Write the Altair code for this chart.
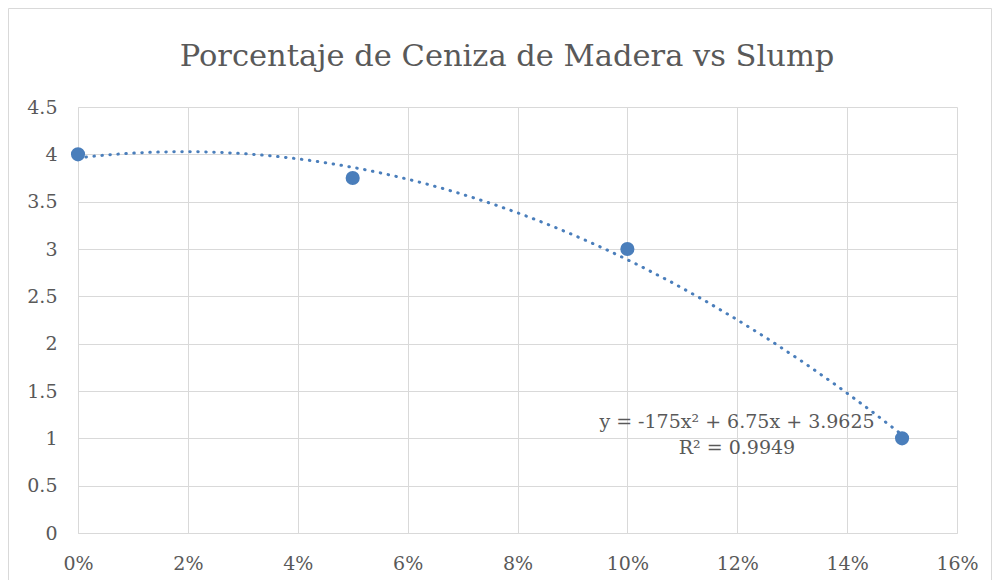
import altair as alt
import pandas as pd

ceniza = [0.0, 0.05, 0.10, 0.15]
slump = [4.0, 3.75, 3.0, 1.0]
titulo = "Porcentaje de Ceniza de Madera vs Slump"
ecuacion = "y = -175x² + 6.75x + 3.9625"
r2 = "R² = 0.9949"
x_ticks = [0, 0.02, 0.04, 0.06, 0.08, 0.10, 0.12, 0.14, 0.16]
y_ticks = [0, 0.5, 1, 1.5, 2, 2.5, 3, 3.5, 4, 4.5]

df = pd.DataFrame({"x": ceniza, "y": slump})

FONT = "DejaVu Serif"
TXT = "#595959"
GRID = "#d9d9d9"
BLUE = "#4a7ebb"
W, H = 879, 426

xs = alt.Scale(domain=[0, 0.16], nice=False)
ys = alt.Scale(domain=[0, 4.5], nice=False)

base = alt.Chart(df)

points = base.mark_circle(size=200, color=BLUE, opacity=1).encode(
    x=alt.X("x:Q", scale=xs, axis=alt.Axis(format=".0%", values=x_ticks, title=None)),
    y=alt.Y("y:Q", scale=ys, axis=alt.Axis(format="~g", values=y_ticks, title=None)),
)

trend = base.transform_regression(
    "x", "y", method="poly", order=2, extent=[0, 0.15]
).mark_line(color=BLUE, strokeWidth=3, strokeDash=[0.5, 7.5], strokeCap="round").encode(
    x=alt.X("x:Q", scale=xs, axis=alt.Axis(format=".0%", values=x_ticks, title=None)),
    y=alt.Y("y:Q", scale=ys, axis=alt.Axis(format="~g", values=y_ticks, title=None)),
)

title = alt.Chart(pd.DataFrame({"t": [titulo]})).mark_text(
    font=FONT, fontSize=30.5, color=TXT, align="center", baseline="middle"
).encode(text="t:N", x=alt.value(429), y=alt.value(-50))

eq1 = alt.Chart(pd.DataFrame({"t": [ecuacion]})).mark_text(
    font=FONT, fontSize=19, color=TXT, align="center", baseline="middle"
).encode(text="t:N", x=alt.value(659), y=alt.value(315))
eq2 = alt.Chart(pd.DataFrame({"t": [r2]})).mark_text(
    font=FONT, fontSize=19, color=TXT, align="center", baseline="middle"
).encode(text="t:N", x=alt.value(659), y=alt.value(341))

frame = alt.Chart(pd.DataFrame({"a": [0]})).mark_rect(
    fill=None, stroke=GRID, strokeWidth=1
).encode(x=alt.value(-69.5), x2=alt.value(W + 34.5), y=alt.value(-98.5), y2=alt.value(H + 60))

chart = alt.layer(frame, trend, points, title, eq1, eq2).properties(
    width=W, height=H,
    autosize=alt.AutoSizeParams(type="none"),
    padding={"left": 70, "top": 99, "right": 35, "bottom": 47},
).configure_view(stroke=None).configure_axis(
    grid=True, gridColor=GRID, domainColor=GRID, ticks=False,
    labelFont=FONT, labelFontSize=19, labelColor=TXT, labelPadding=21,
    labelFlush=False, labelOverlap=False, labelBound=False,
)

chart.save("out.html", embed_options={"renderer": "svg", "actions": False})
